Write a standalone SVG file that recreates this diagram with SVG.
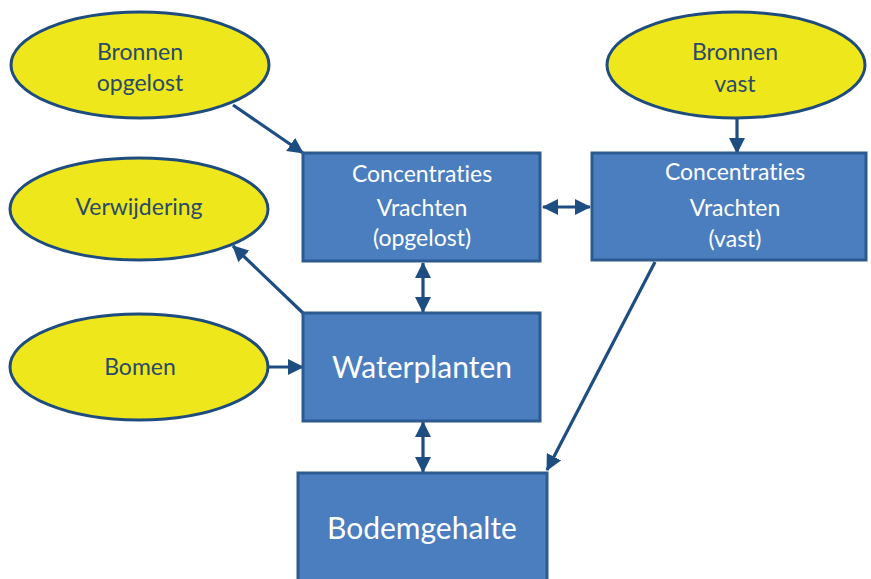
<svg xmlns="http://www.w3.org/2000/svg" width="871" height="579" viewBox="0 0 871 579">
  <style>
    text { font-variant-ligatures: none; }
    .oval { fill: #EEE71B; stroke: #1F4C7E; stroke-width: 3; }
    .box { fill: #4A7EBF; stroke: #2C5A90; stroke-width: 3; }
    .otext { font-family: Lato, "Open Sans", sans-serif; font-size: 23px; fill: #2A4A6C; text-anchor: middle; }
    .btext { font-family: Lato, "Open Sans", sans-serif; font-size: 23px; fill: #FFFFFF; text-anchor: middle; }
    .big { font-size: 30px; }
    .conn { stroke: #1E4D82; stroke-width: 3.2; fill: none; marker-end: url(#head); }
    .both { marker-start: url(#head); }
  </style>
  <defs>
    <marker id="head" viewBox="0 0 16 16" refX="15" refY="8" markerWidth="16" markerHeight="16" markerUnits="userSpaceOnUse" orient="auto-start-reverse">
      <path d="M0,0 L16,8 L0,16 z" fill="#1E4D82"/>
    </marker>
  </defs>

  <rect width="871" height="579" fill="#FFFFFF"/>

  <g id="connectors">
    <path class="conn" d="M233,105 L303,153"/>
    <path class="conn both" d="M543,207 L590,207"/>
    <path class="conn" d="M737,118 L737,153"/>
    <path class="conn both" d="M423,263 L423,312"/>
    <path class="conn" d="M303,313 L233,246"/>
    <path class="conn" d="M269,367 L303,367"/>
    <path class="conn both" d="M423,422 L423,472"/>
    <path class="conn" d="M655,262 L547,470"/>
  </g>

  <g id="bronnen-opgelost">
    <ellipse class="oval" cx="140" cy="65" rx="129" ry="53"/>
    <text class="otext" x="140" y="60">Bronnen</text>
    <text class="otext" x="140" y="91">opgelost</text>
  </g>

  <g id="verwijdering">
    <ellipse class="oval" cx="139" cy="209" rx="129" ry="51"/>
    <text class="otext" x="139" y="215">Verwijdering</text>
  </g>

  <g id="bomen">
    <ellipse class="oval" cx="139" cy="367" rx="129" ry="53"/>
    <text class="otext" x="140" y="375">Bomen</text>
  </g>

  <g id="bronnen-vast">
    <ellipse class="oval" cx="736" cy="65" rx="129" ry="53"/>
    <text class="otext" x="735" y="60">Bronnen</text>
    <text class="otext" x="735" y="92">vast</text>
  </g>

  <g id="concentraties-opgelost">
    <rect class="box" x="303" y="153" width="237" height="108"/>
    <text class="btext" x="422" y="182">Concentraties</text>
    <text class="btext" x="422" y="216">Vrachten</text>
    <text class="btext" x="422" y="246">(opgelost)</text>
  </g>

  <g id="concentraties-vast">
    <rect class="box" x="592" y="153" width="274" height="107"/>
    <text class="btext" x="735" y="180">Concentraties</text>
    <text class="btext" x="735" y="216">Vrachten</text>
    <text class="btext" x="735" y="247">(vast)</text>
  </g>

  <g id="waterplanten">
    <rect class="box" x="303" y="313" width="237" height="108"/>
    <text class="btext big" x="422" y="378">Waterplanten</text>
  </g>

  <g id="bodemgehalte">
    <rect class="box" x="298" y="473" width="249" height="120"/>
    <text class="btext big" x="422" y="539">Bodemgehalte</text>
  </g>
</svg>
